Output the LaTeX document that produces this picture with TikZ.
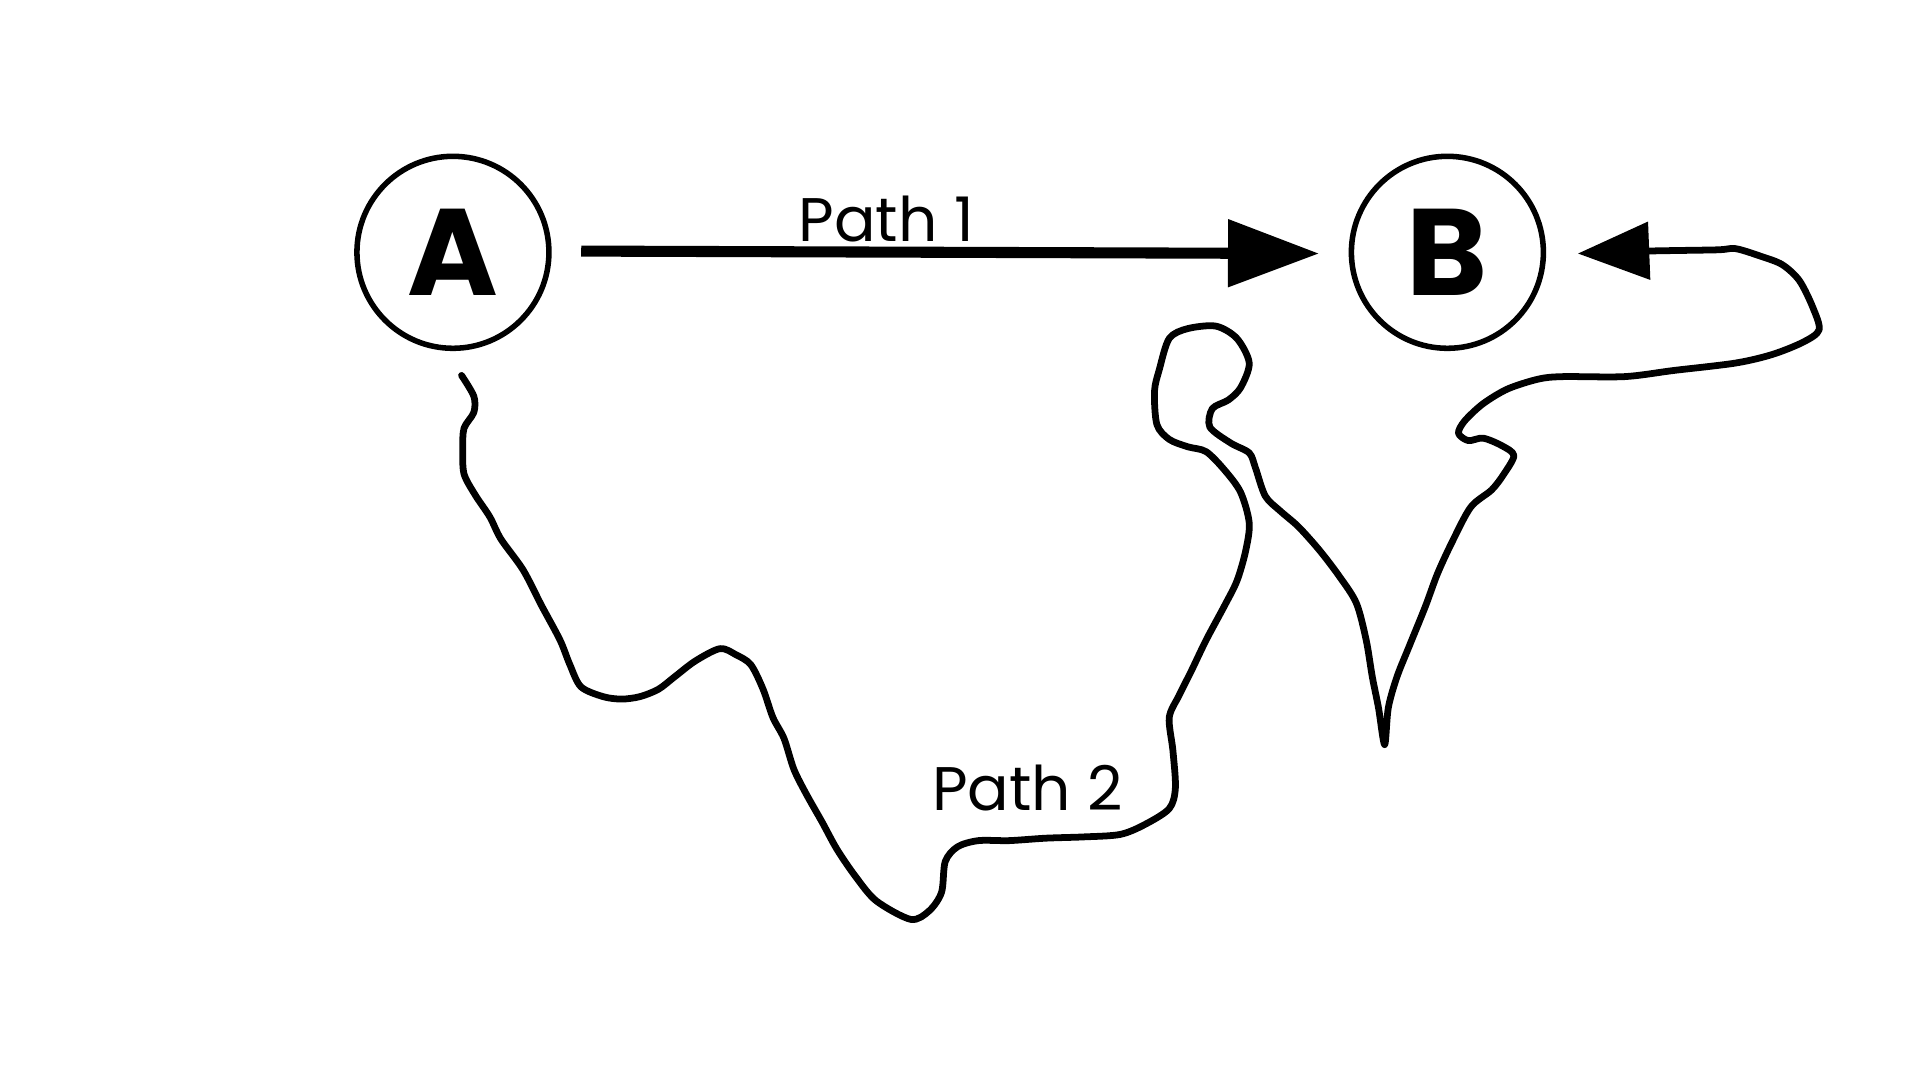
\documentclass[tikz,border=0pt]{standalone}
\usepackage{fontspec}
\setmainfont{Poppins}
\usetikzlibrary{arrows.meta}
\begin{document}
\begin{tikzpicture}[x=1pt,y=-1pt,
  station/.style={circle,draw,line width=4.5pt,minimum size=156pt,inner sep=0pt,font=\fontsize{100}{100}\selectfont\bfseries},
  lbl/.style={font=\fontsize{50}{50}\selectfont},
  route/.style={line width=5.5pt,line cap=round,line join=round}]
\useasboundingbox[fill=white] (0,0) rectangle (1560,877.5);
\node[station] (A) at (368,205) {A};
\node[station] (B) at (1176,205) {B};
\draw[line width=9pt,-{Triangle[length=74pt,width=53pt]}] (A.east)++(24,-1) coordinate (a1) -- ([xshift=-24pt,yshift=-1pt]B.west);
\node[lbl] (p1) at (720,178) {Path 1};
\node[lbl] (p2) at (835,640) {Path 2};
\coordinate (s) at (375,305);
\coordinate (e) at (1282,206);
\draw[route,-{Triangle[length=58pt,width=46pt]}] plot[smooth,tension=0.5] coordinates{(s)(385,322)(385,335)(377,348)(376,365)(377,385)(386,402)(398,420)(407,438)(425,463)(440,492)(455,520)(463,540)(472,558)(490,566)(505,568)(520,566)(535,560)(548,550)(565,537)(585,527)(598,532)(610,540)(620,560)(628,583)(637,600)(645,625)(655,645)(668,668)(680,690)(695,712)(712,732)(740,747)(755,740)(765,725)(768,700)(778,688)(795,683)(820,683)(850,681)(880,680)(910,678)(930,670)(950,657)(955,640)(953,610)(950,583)(958,565)(968,545)(980,520)(995,492)(1005,472)(1012,448)(1015,425)(1008,400)(995,382)(980,367)(965,363)(950,357)(940,345)(938,318)(942,300)(950,275)(965,267)(988,265)(1005,275)(1015,295)(1008,315)(998,325)(985,332)(983,347)(1000,360)(1015,368)(1020,380)(1028,403)(1040,415)(1055,428)(1072,447)(1088,468)(1102,490)(1110,520)(1115,550)(1120,575)(1125,605)(1128,575)(1135,550)(1145,525)(1158,493)(1168,466)(1180,440)(1195,412)(1212,398)(1222,385)(1230,370)(1220,362)(1205,356)(1193,358)(1185,352)(1190,342)(1205,328)(1225,316)(1250,308)(1270,306)(1320,306)(1360,301)(1410,295)(1440,288)(1465,278)(1478,268)(1473,250)(1462,228)(1448,215)(1430,208)(1410,202)(1395,203)(1338,204)(e)};
\end{tikzpicture}
\end{document}
